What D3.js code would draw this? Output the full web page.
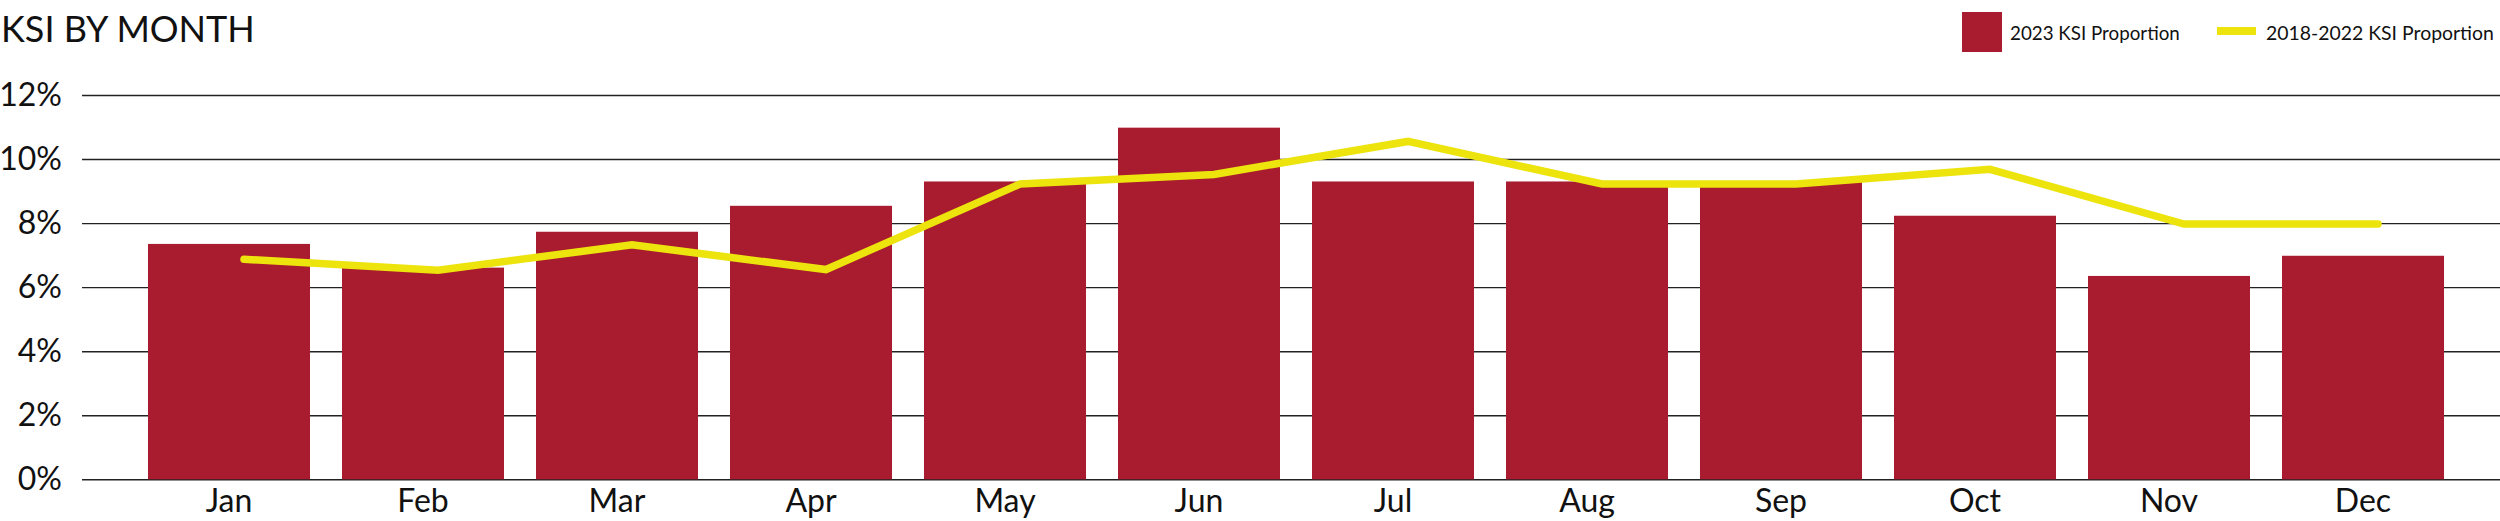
<!DOCTYPE html>
<html>
<head>
<meta charset="utf-8">
<script src="https://cdn.jsdelivr.net/npm/d3@7"></script>
<style>
  html, body { margin: 0; padding: 0; background: #fff; }
  svg { display: block; font-family: Lato, "Liberation Sans", sans-serif; }
</style>
</head>
<body>
<svg id="chart" width="2500" height="521"></svg>
<script>
// ---- data ----
const months = ["Jan","Feb","Mar","Apr","May","Jun","Jul","Aug","Sep","Oct","Nov","Dec"];
const ksi2023 = [7.35, 6.61, 7.73, 8.54, 9.30, 10.98, 9.30, 9.30, 9.30, 8.23, 6.35, 6.98];
const ksi2018_2022 = [6.87, 6.53, 7.32, 6.55, 9.22, 9.52, 10.55, 9.22, 9.22, 9.68, 7.97, 7.97];
const yTicks = [0, 2, 4, 6, 8, 10, 12];
const seriesNames = ["2023 KSI Proportion", "2018-2022 KSI Proportion"];
const title = "KSI BY MONTH";

// ---- styles ----
const barColor = "#a91b2e";
const lineColor = "#ece40c";
const gridColor = "#222";
const textColor = "#111";

const svg = d3.select("#chart");

const x = d3.scaleBand().domain(months).range([132, 2460]).paddingInner(0.165).paddingOuter(0.0825);
const y = d3.scaleLinear().domain([0, 12]).range([479.3, 95]);
const lineOffset = 15;

// title
svg.append("text").attr("x", 1).attr("y", 42).attr("font-size", 36).attr("fill", textColor).text(title);

// y axis (grid lines + labels)
const yAxis = d3.axisLeft(y).tickValues(yTicks).tickFormat(d => d + "%").tickSize(-(2500 - 82)).tickPadding(20);
const gy = svg.append("g").attr("transform", "translate(82,0)").call(yAxis);
gy.select(".domain").remove();
gy.selectAll(".tick line").attr("stroke", gridColor).attr("stroke-width", 1.4);
gy.selectAll(".tick text").attr("font-size", 32).attr("fill", textColor).attr("font-family", "Lato, sans-serif");

// bars
svg.append("g").selectAll("rect").data(months).join("rect")
  .attr("x", d => x(d))
  .attr("width", x.bandwidth())
  .attr("y", (d, i) => y(ksi2023[i]))
  .attr("height", (d, i) => y(0) - y(ksi2023[i]))
  .attr("fill", barColor);

// x axis labels
const xAxis = d3.axisBottom(x).tickSize(0).tickPadding(10);
const gx = svg.append("g").attr("transform", `translate(0,${y(0)})`).call(xAxis);
gx.select(".domain").remove();
gx.selectAll(".tick text").attr("font-size", 32).attr("fill", textColor).attr("font-family", "Lato, sans-serif");

// line
const line = d3.line()
  .x((d, i) => x(months[i]) + x.bandwidth() / 2 + lineOffset)
  .y(d => y(d))
  .curve(d3.curveLinear);
svg.append("path").datum(ksi2018_2022)
  .attr("d", line)
  .attr("fill", "none")
  .attr("stroke", lineColor)
  .attr("stroke-width", 7.5)
  .attr("stroke-linecap", "round")
  .attr("stroke-linejoin", "miter");

// legend
const lg = svg.append("g");
function fitText(xPos, targetWidth, str) {
  const t = lg.append("text").attr("x", xPos).attr("y", 40).attr("font-size", 20).attr("fill", textColor).text(str);
  const w = t.node().getComputedTextLength();
  const fs = Math.min(24, 20 * targetWidth / w);
  t.attr("font-size", fs);
  return t;
}
lg.append("rect").attr("x", 1962).attr("y", 12).attr("width", 40).attr("height", 40).attr("fill", barColor);
fitText(2010, 170, seriesNames[0]);
lg.append("rect").attr("x", 2217).attr("y", 27).attr("width", 39).attr("height", 8).attr("fill", lineColor);
fitText(2266, 228, seriesNames[1]);
</script>
</body>
</html>
